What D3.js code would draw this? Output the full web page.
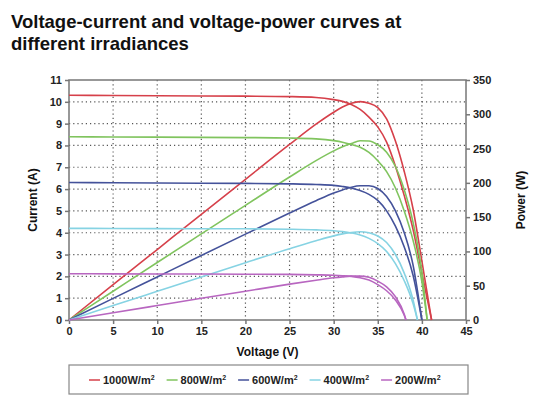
<!DOCTYPE html>
<html>
<head>
<meta charset="utf-8">
<script src="https://cdn.jsdelivr.net/npm/d3@7"></script>
<style>
  body { margin: 0; background: #fff; }
  text { font-family: Arial, "Liberation Sans", sans-serif; }
</style>
</head>
<body>
<script>
// irradiance levels and line colours (legend order)
var irradiance = ["1000", "800", "600", "400", "200"];
var colors = ["#d6404a", "#80c45e", "#44529a", "#86d3e3", "#b866c0"];

// voltage (V), current (A), power (W)
var volt1000 = [0, 5, 10, 15, 20, 25, 28, 30, 31, 32, 33, 34, 35, 36, 37, 38, 39, 40, 41.1];
var amp1000  = [10.30, 10.29, 10.28, 10.27, 10.26, 10.24, 10.20, 10.10, 10.02, 9.88, 9.65, 9.30, 8.85, 8.15, 7.05, 5.70, 4.15, 2.15, 0];
var watt1000 = [0, 51.5, 102.8, 154.1, 205.2, 256, 285.6, 303, 310.6, 316.2, 318.5, 316.2, 309.8, 293.4, 260.9, 216.6, 161.9, 86, 0];

var volt800 = [0, 5, 10, 15, 20, 25, 28, 30, 31, 32, 33, 34, 35, 36, 37, 38, 39, 40, 40.6];
var amp800  = [8.40, 8.39, 8.38, 8.37, 8.36, 8.34, 8.30, 8.22, 8.15, 8.04, 7.92, 7.68, 7.30, 6.80, 6.05, 5.00, 3.65, 1.75, 0];
var watt800 = [0, 41.9, 83.8, 125.6, 167.2, 208.5, 232.4, 246.6, 252.7, 257.3, 261.4, 261.1, 255.5, 244.8, 223.9, 190, 142.4, 70, 0];

var volt600 = [0, 5, 10, 15, 20, 25, 28, 30, 31, 32, 33, 34, 35, 36, 37, 38, 39, 40];
var amp600  = [6.30, 6.29, 6.28, 6.27, 6.26, 6.24, 6.21, 6.17, 6.12, 6.05, 5.93, 5.76, 5.48, 5.00, 4.30, 3.35, 2.05, 0];
var watt600 = [0, 31.5, 62.8, 94.1, 125.2, 156, 173.9, 185.1, 189.7, 193.6, 195.7, 195.8, 191.8, 180, 159.1, 127.3, 80, 0];

var volt400 = [0, 5, 10, 15, 20, 25, 28, 30, 31, 32, 33, 34, 35, 36, 37, 38, 39, 39.5];
var amp400  = [4.20, 4.195, 4.19, 4.185, 4.18, 4.16, 4.13, 4.09, 4.05, 3.99, 3.90, 3.74, 3.50, 3.14, 2.58, 1.80, 0.75, 0];
var watt400 = [0, 21, 41.9, 62.8, 83.6, 104, 115.6, 122.7, 125.6, 127.7, 128.7, 127.2, 122.5, 113, 95.5, 68.4, 29.3, 0];

var volt200 = [0, 5, 10, 15, 20, 25, 28, 30, 31, 32, 33, 34, 35, 36, 37, 38, 38.2];
var amp200  = [2.12, 2.115, 2.11, 2.105, 2.10, 2.09, 2.07, 2.05, 2.03, 2.00, 1.94, 1.83, 1.62, 1.34, 0.92, 0.22, 0];
var watt200 = [0, 10.6, 21.1, 31.6, 42, 52.3, 58, 61.5, 62.9, 64, 64, 62.2, 56.7, 48.2, 34, 8.4, 0];

// tick labels
var voltTicks = [0, 5, 10, 15, 20, 25, 30, 35, 40, 45];
var ampTicks = [0, 1, 2, 3, 4, 5, 6, 7, 8, 9, 10, 11];
var wattTicks = [0, 50, 100, 150, 200, 250, 300, 350];

var width = 538, height = 408,
  plotL = 69, plotR = 466, plotT = 80, plotB = 320;

var svg = d3.select("body").append("svg")
  .attr("width", width)
  .attr("height", height);

var x = d3.scaleLinear().domain([0, 45]).range([plotL, plotR]),
  yI = d3.scaleLinear().domain([0, 11]).range([plotB, plotT]),
  yP = d3.scaleLinear().domain([0, 350]).range([plotB, plotT]);

// title
svg.append("text").attr("x", 11).attr("y", 28)
  .attr("font-size", 18.5).attr("font-weight", "bold").attr("fill", "#111")
  .text("Voltage-current and voltage-power curves at");
svg.append("text").attr("x", 11).attr("y", 50)
  .attr("font-size", 18.5).attr("font-weight", "bold").attr("fill", "#111")
  .text("different irradiances");

// dotted grid
var grid = svg.append("g").attr("stroke", "#555").attr("stroke-width", 1.2).attr("stroke-dasharray", "1.2,3");
grid.selectAll("line.v").data(voltTicks.slice(1, -1)).enter().append("line")
  .attr("x1", function(d) { return x(d); }).attr("x2", function(d) { return x(d); })
  .attr("y1", plotT).attr("y2", plotB);
grid.selectAll("line.h").data(ampTicks.slice(1, -1)).enter().append("line")
  .attr("y1", function(d) { return yI(d); }).attr("y2", function(d) { return yI(d); })
  .attr("x1", plotL).attr("x2", plotR);

// axes
function styleAxis(g) {
  g.select(".domain").remove();
  g.selectAll(".tick line").attr("stroke", "#777").attr("stroke-width", 1.5);
  g.selectAll(".tick text").attr("font-size", 11).attr("font-weight", "bold").attr("fill", "#222")
    .attr("font-family", "Arial, 'Liberation Sans', sans-serif");
}
svg.append("g").attr("transform", "translate(0," + plotB + ")")
  .call(d3.axisBottom(x).tickValues(voltTicks).tickSize(4).tickPadding(3))
  .call(styleAxis);
svg.append("g").attr("transform", "translate(" + plotL + ",0)")
  .call(d3.axisLeft(yI).tickValues(ampTicks).tickSize(4).tickPadding(3))
  .call(styleAxis);
svg.append("g").attr("transform", "translate(" + plotR + ",0)")
  .call(d3.axisRight(yP).tickValues(wattTicks).tickSize(4).tickPadding(3))
  .call(styleAxis);

svg.append("rect").attr("x", plotL).attr("y", plotT)
  .attr("width", plotR - plotL).attr("height", plotB - plotT)
  .attr("fill", "none").attr("stroke", "#777").attr("stroke-width", 1.5);

// axis titles
svg.append("text").attr("x", (plotL + plotR) / 2).attr("y", 356).attr("text-anchor", "middle")
  .attr("font-size", 12).attr("font-weight", "bold").attr("fill", "#111").text("Voltage (V)");
svg.append("text").attr("transform", "translate(37," + (plotT + plotB) / 2 + ") rotate(-90)")
  .attr("text-anchor", "middle").attr("font-size", 12).attr("font-weight", "bold").attr("fill", "#111")
  .text("Current (A)");
svg.append("text").attr("transform", "translate(525," + (plotT + plotB) / 2 + ") rotate(-90)")
  .attr("text-anchor", "middle").attr("font-size", 12).attr("font-weight", "bold").attr("fill", "#111")
  .text("Power (W)");

// curves
var series = [
  { v: volt1000, i: amp1000, p: watt1000 },
  { v: volt800, i: amp800, p: watt800 },
  { v: volt600, i: amp600, p: watt600 },
  { v: volt400, i: amp400, p: watt400 },
  { v: volt200, i: amp200, p: watt200 }
];
var lineI = d3.line().curve(d3.curveMonotoneX)
  .x(function(d) { return x(d[0]); }).y(function(d) { return yI(d[1]); });
var lineP = d3.line().curve(d3.curveMonotoneX)
  .x(function(d) { return x(d[0]); }).y(function(d) { return yP(d[1]); });

series.forEach(function(s, k) {
  var ivPts = s.v.map(function(v, j) { return [v, s.i[j]]; }),
    pvPts = s.v.map(function(v, j) { return [v, s.p[j]]; });
  svg.append("path").attr("d", lineI(ivPts))
    .attr("fill", "none").attr("stroke", colors[k]).attr("stroke-width", 1.6);
  svg.append("path").attr("d", lineP(pvPts))
    .attr("fill", "none").attr("stroke", colors[k]).attr("stroke-width", 1.6);
});

// legend
svg.append("rect").attr("x", plotL).attr("y", 365)
  .attr("width", plotR - plotL + 2).attr("height", 29)
  .attr("fill", "#fff").attr("stroke", "#888").attr("stroke-width", 1.2);
var lx = 89;
irradiance.forEach(function(name, k) {
  svg.append("line").attr("x1", lx).attr("x2", lx + 11).attr("y1", 380).attr("y2", 380)
    .attr("stroke", colors[k]).attr("stroke-width", 1.5);
  var t = svg.append("text").attr("x", lx + 14).attr("y", 384)
    .attr("font-size", 11).attr("font-weight", "bold").attr("fill", "#222");
  t.append("tspan").text(name + "W/m");
  t.append("tspan").attr("font-size", 7).attr("dy", -4).text("2");
  lx += 14 + t.node().getComputedTextLength() + 12;
});
</script>
</body>
</html>
